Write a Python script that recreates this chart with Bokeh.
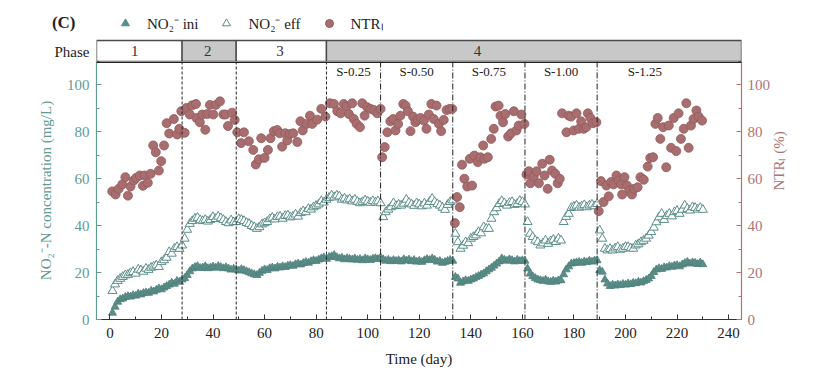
import math
from bokeh.plotting import figure
from bokeh.models import (Range1d, LinearAxis, SingleIntervalTicker, FixedTicker, Span,
                          Legend, LegendItem)
from bokeh.layouts import column
from bokeh.embed import file_html
from bokeh.resources import INLINE
from bokeh.core.properties import value

FONT = "Liberation Serif"
TEAL = "#5b8e89"
TEAL_AX = "#629a94"
ROSE = "#a76d6f"
ROSE_AX = "#ac7477"

# ---------------- data ----------------
days = list(range(1, 231))
no2_ini = [
    2.8, 5.4, 7.5, 8.6, 8.9, 9.5, 9.9, 9.7, 10.3, 10.1,
    11.0, 10.6, 11.2, 11.5, 11.3, 12.2, 11.9, 12.6, 13.2, 12.8,
    13.6, 14.2, 14.8, 15.6, 15.2, 16.4, 16.0, 17.0, 17.6, 18.9,
    20.5, 21.7, 22.3, 22.7, 21.9, 22.1, 22.6, 21.8, 22.1, 22.5,
    22.0, 22.7, 22.3, 21.8, 22.2, 21.7, 21.2, 21.6, 21.3, 20.8,
    21.4, 21.0, 20.5, 20.1, 19.6, 19.2, 18.9, 19.8, 20.7, 21.3,
    21.0, 21.8, 22.1, 21.7, 22.4, 22.1, 22.6, 22.3, 22.9, 23.1,
    22.8, 23.5, 23.8, 23.4, 24.0, 24.5, 24.1, 24.8, 25.2, 24.9,
    25.5, 26.0, 26.4, 25.8, 26.6, 26.9, 27.4, 26.5, 26.0, 26.3,
    25.6, 26.1, 25.8, 25.5, 26.0, 25.4, 25.7, 25.2, 26.0, 25.6,
    25.3, 25.9, 26.1, 25.7, 26.4, 25.6, 25.0, 25.4, 24.8, 25.3,
    24.9, 25.2, 24.7, 25.6, 25.1, 25.5, 24.8, 25.3, 24.6, 25.0,
    24.5, 25.2, 25.7, 25.3, 26.0, 25.4, 24.6, 24.9, 24.1, 24.5,
    24.9, 25.3, 25.0, 18.1, 17.4, 15.6, 16.2, 16.7, 16.4, 17.0,
    17.4, 18.0, 18.5, 19.1, 19.6, 20.5, 21.3, 22.0, 22.9, 23.8,
    24.7, 26.0, 25.4, 25.0, 25.6, 25.2, 24.7, 25.4, 24.9, 25.2,
    25.0, 21.7, 19.5, 18.4, 17.6, 17.0, 16.7, 16.4, 16.9, 16.2,
    16.0, 16.5, 16.1, 16.6, 16.7, 19.2, 21.3, 22.6, 23.8, 24.0,
    24.3, 24.5, 24.1, 24.7, 24.4, 25.0, 24.6, 25.1, 25.2, 21.0,
    20.3, 17.0, 15.3, 14.2, 14.8, 14.4, 14.9, 14.6, 15.1, 14.8,
    15.3, 15.0, 15.6, 15.4, 16.0, 15.7, 16.3, 16.8, 17.4, 18.5,
    20.2, 21.3, 21.8, 21.5, 22.2, 22.1, 22.7, 22.4, 23.0, 23.1,
    22.6, 23.4, 24.0, 24.5, 23.8, 24.3, 24.1, 23.6, 24.2, 23.5,
]
no2_eff = [
    12.2, 15.0, 16.5, 17.4, 18.2, 18.9, 19.1, 19.8, 20.3, 19.6,
    21.3, 21.0, 20.4, 21.7, 21.2, 22.1, 22.6, 23.1, 22.4, 24.5,
    25.3, 26.4, 28.8, 28.1, 30.2, 30.9, 30.2, 31.6, 34.5, 38.3,
    40.8, 42.0, 43.0, 43.4, 42.4, 42.0, 42.5, 41.8, 42.5, 43.7,
    42.9, 43.9, 43.2, 42.5, 41.6, 41.1, 42.3, 41.5, 41.6, 42.8,
    42.5, 42.0, 41.2, 40.8, 39.9, 39.4, 38.7, 39.4, 40.6, 41.1,
    41.6, 42.8, 43.4, 42.7, 43.7, 43.9, 43.0, 44.2, 44.4, 43.6,
    43.9, 44.8, 43.9, 45.4, 46.2, 45.8, 47.2, 46.9, 47.9, 48.5,
    49.1, 50.5, 49.9, 51.1, 51.9, 52.9, 52.1, 52.9, 52.5, 51.1,
    51.6, 50.8, 51.3, 50.4, 51.1, 50.2, 49.6, 50.1, 50.8, 50.3,
    49.8, 50.5, 49.9, 50.4, 49.6, 43.7, 45.8, 46.9, 47.9, 49.6,
    48.4, 49.0, 48.6, 49.4, 51.1, 49.8, 49.1, 48.5, 49.6, 49.1,
    48.3, 49.5, 48.6, 50.2, 51.5, 50.1, 49.2, 48.6, 47.7, 46.8,
    48.9, 50.1, 50.8, 36.6, 33.0, 30.2, 31.5, 33.0, 32.6, 34.5,
    35.2, 35.9, 37.3, 36.8, 39.4, 38.7, 38.7, 43.0, 45.8, 47.5,
    49.3, 50.5, 49.6, 48.6, 49.8, 50.1, 48.9, 49.3, 50.6, 50.1,
    49.1, 41.6, 36.6, 35.2, 33.7, 33.0, 31.6, 32.5, 33.7, 32.3,
    33.4, 34.0, 33.1, 34.5, 33.7, 41.6, 43.8, 45.1, 47.6, 48.1,
    48.6, 47.7, 48.2, 48.8, 47.9, 48.6, 49.0, 48.3, 49.3, 38.0,
    34.5, 30.2, 29.5, 30.1, 29.5, 30.3, 30.9, 29.8, 30.2, 31.0,
    30.9, 30.4, 30.2, 31.6, 32.1, 33.0, 33.6, 34.5, 35.8, 37.3,
    39.2, 41.5, 43.6, 45.1, 42.5, 44.2, 45.1, 44.0, 45.8, 46.3,
    45.1, 46.8, 48.6, 47.2, 46.5, 47.9, 47.6, 46.9, 47.6, 46.8,
]
ntr_day = [
    0.9, 2.2, 3.4, 4.8, 6.0, 7.0, 8.0, 9.3, 10.2, 11.6, 12.8, 13.5, 14.7, 15.8,
    16.8, 17.8, 19.0, 19.9, 21.0, 22.0, 23.0, 24.8, 26.1, 26.9, 27.7,
    29.0, 29.7, 31.0, 31.9, 33.4, 33.6, 34.9, 35.8, 37.0, 37.8, 38.8, 40.1,
    41.1, 42.7, 44.0, 44.9, 45.8, 47.4, 48.4,
    49.4, 50.9, 52.0, 53.9, 55.6, 56.6, 57.8, 58.7, 60.0, 61.3, 62.3, 63.6,
    64.9, 65.9, 66.8, 68.0, 68.8, 69.8, 71.1, 72.7, 73.9, 74.8, 76.3, 77.6,
    78.5, 80.4, 82.0, 83.6,
    85.3, 86.9, 88.2, 89.5, 90.7, 91.8, 92.7, 94.0, 94.6, 95.7, 97.0, 97.9,
    98.8, 99.8, 101.1, 102.4, 103.7, 105.0,
    105.6, 106.6, 107.6, 108.8, 109.9, 110.8, 111.8, 112.7, 113.8, 114.7,
    115.6, 116.6, 117.6, 118.5, 119.4, 120.5, 121.8, 122.8, 123.7, 124.7,
    125.6, 126.7, 127.6, 128.5, 129.5, 130.6, 131.8, 132.8,
    133.8, 134.7, 135.7, 136.6, 137.5, 138.6, 139.6, 140.5, 141.4, 142.7,
    143.7, 144.8, 145.3, 146.6, 147.9, 148.9, 149.6, 150.8, 151.5, 152.5,
    153.4, 154.5, 155.6, 156.7, 157.7, 158.6, 159.6, 160.8,
    161.6, 162.5, 163.1, 164.4, 165.5, 166.4, 167.7, 168.6, 169.8, 170.6,
    171.5, 172.8, 173.7, 174.5, 175.4, 177.1, 178.0, 178.9, 179.9, 181.0,
    181.9, 182.8, 183.8, 184.8, 185.4, 186.4, 187.4, 188.7,
    189.6, 190.5, 191.5, 192.6, 193.5, 194.4, 195.4, 196.5, 197.4, 198.3,
    198.7, 199.6, 200.6, 201.6, 202.5, 203.4, 204.7, 205.8, 207.1, 208.6,
    209.6, 210.7, 211.6, 212.5, 213.5, 214.6, 215.8, 216.8, 217.7, 218.7,
    219.7, 220.6, 221.5, 222.6, 223.6, 224.5, 225.4, 226.4, 227.5, 228.4,
    229.7,
]
ntr_val = [
    54.6, 53.3, 55.7, 57.6, 60.7, 52.8, 56.7, 59.3, 60.4, 61.4, 57.0, 61.4, 58.3, 62.1,
    74.2, 71.3, 63.5, 67.5, 74.2, 83.7, 79.3, 85.5, 78.9, 81.3, 88.8,
    79.6, 90.2, 87.4, 91.3, 91.9, 85.9, 84.1, 87.4, 80.9, 87.6, 91.5, 87.4,
    91.5, 93.0, 87.4, 87.4, 82.5, 88.2, 85.1,
    79.8, 75.2, 79.8, 76.0, 72.3, 66.1, 68.3, 77.3, 68.9, 72.3, 77.3, 80.3,
    80.8, 79.4, 73.7, 79.4, 76.3, 79.1, 79.4, 75.7, 84.5, 80.6, 83.4, 86.9,
    83.4, 85.2, 89.8, 86.5,
    92.2, 91.9, 88.8, 87.9, 91.9, 90.8, 87.6, 92.2, 85.5, 83.4, 82.0, 92.2,
    86.9, 90.5, 89.8, 89.3, 87.9, 89.8,
    69.2, 73.5, 79.8, 84.5, 85.5, 80.6, 83.4, 86.9, 91.9, 91.2,
    88.8, 80.3, 86.5, 84.1, 85.1, 85.9, 84.8, 81.3, 87.4, 91.9,
    85.5, 91.2, 83.4, 80.3, 85.1, 89.3, 89.8, 89.8,
    41.1, 52.2, 47.9, 66.0, 60.0, 56.7, 68.5, 57.1, 69.9, 67.1,
    69.2, 74.2, 68.5, 69.2, 77.0, 81.3, 90.8, 91.2, 86.9, 84.1,
    87.6, 78.0, 79.4, 88.8, 80.6, 82.7, 87.4, 83.4,
    61.8, 63.2, 58.1, 61.0, 63.2, 58.1, 66.4, 61.4, 55.7, 68.1,
    63.5, 62.1, 58.1, 60.0, 87.9, 79.8, 86.9, 86.5, 80.6, 87.9,
    81.3, 84.5, 81.3, 82.0, 87.9, 85.9, 83.7, 84.1,
    46.2, 59.0, 50.1, 57.1, 52.5, 58.6, 57.6, 61.4, 59.3, 57.6,
    53.3, 60.7, 57.1, 55.0, 53.3, 55.7, 56.4, 60.7, 59.6, 65.2,
    68.9, 69.2, 83.4, 85.9, 77.0, 82.0, 64.9, 82.7, 73.2, 85.9,
    71.8, 87.9, 77.0, 81.3, 92.2, 73.2, 82.7, 85.5, 89.1, 86.5,
    84.8,
]

phase_names = ["1", "2", "3", "4"]
phase_start = [-5.2, 28, 49, 84]
phase_end = [28, 49, 84, 245]
phase_fill = ["white", "#c8c8c8", "white", "#c8c8c8"]
phase_label_x = [9.6, 38.0, 66.0, 142.6]
sub_names = ["S-0.25", "S-0.50", "S-0.75", "S-1.00", "S-1.25"]
sub_label_x = [94.5, 119.0, 147.0, 175.0, 207.5]
sub_label_y = [105.7] * 5
dashed_days = [28, 49, 84]
dashdot_days = [105, 133, 161, 189]

X_MIN, X_MAX = -5.2, 245
Y_MIN, Y_MAX = 0, 110

# ---------------- layout geometry ----------------
W = 809
BORDER_L, BORDER_R = 96, 68
TOP_H = 61          # legend row + phase bar (top strip uses pixel units on y)
BAR_H = 21          # phase bar height
PHASE_ROW_Y = 10    # "Phase" tick in the top strip
PANEL_ROW_Y = 39    # "(C)" tick in the top strip
MAIN_H = 311

xr = Range1d(X_MIN, X_MAX)

# ---------------- top figure: legend + phase bar ----------------
pt = figure(width=W, height=TOP_H, x_range=xr, y_range=Range1d(0, TOP_H),
            output_backend="svg", toolbar_location=None,
            x_axis_location=None, y_axis_location=None,
            min_border_left=BORDER_L, min_border_right=BORDER_R,
            min_border_top=0, min_border_bottom=0)
pt.grid.visible = False
pt.outline_line_color = None
pt.background_fill_color = "white"

pt.quad(left=phase_start, right=phase_end, bottom=0, top=BAR_H,
        fill_color=phase_fill, line_color="#4a4a4a", line_width=1.4)
pt.text(x=phase_label_x, y=[BAR_H / 2] * 4, text=phase_names,
        text_font=value(FONT), text_font_size="15px", text_color="#333333",
        text_align="center", text_baseline="middle")


def label_axis(ticks_at, text, size, style, standoff):
    ax = LinearAxis(ticker=FixedTicker(ticks=[ticks_at]))
    ax.major_label_overrides = {ticks_at: text}
    ax.axis_line_color = None
    ax.major_tick_line_color = None
    ax.minor_tick_line_color = None
    ax.major_tick_in = 0
    ax.major_tick_out = 0
    ax.major_label_standoff = standoff
    ax.major_label_text_font = FONT
    ax.major_label_text_font_size = size
    ax.major_label_text_font_style = style
    ax.major_label_text_color = "#222222"
    return ax


pt.add_layout(label_axis(PHASE_ROW_Y, "Phase", "15px", "normal", 7), "left")
pt.add_layout(label_axis(PANEL_ROW_Y, "(C)", "17px", "bold", -24), "left")

nan = float("nan")
r_ini_leg = pt.scatter(x=[nan], y=[nan], marker="triangle", size=9,
                       fill_color=TEAL, line_color=TEAL)
r_eff_leg = pt.scatter(x=[nan], y=[nan], marker="triangle", size=9,
                       fill_color="white", line_color=TEAL, line_width=1)
r_ntr_leg = pt.scatter(x=[nan], y=[nan], marker="circle", size=9,
                       fill_color=ROSE, line_color="#94595b")
legend = Legend(items=[LegendItem(label="NO₂⁻ ini", renderers=[r_ini_leg]),
                       LegendItem(label="NO₂⁻ eff", renderers=[r_eff_leg]),
                       LegendItem(label="NTRₗ", renderers=[r_ntr_leg])],
                orientation="horizontal", location=(19, 28),
                label_text_font=FONT, label_text_font_size="15px",
                label_text_color="#222222",
                glyph_width=20, glyph_height=20, label_standoff=12, spacing=18,
                padding=0, margin=0, border_line_color=None,
                background_fill_alpha=0)
pt.add_layout(legend)

# ---------------- main figure ----------------
p = figure(width=W, height=MAIN_H, x_range=xr, y_range=Range1d(Y_MIN, Y_MAX),
           output_backend="svg", toolbar_location=None,
           min_border_left=BORDER_L, min_border_right=BORDER_R,
           min_border_top=0, min_border_bottom=53)
p.grid.visible = False
p.outline_line_color = None
p.extra_y_ranges = {"ntr": Range1d(Y_MIN, Y_MAX)}

p.add_layout(Span(location=Y_MAX, dimension="width", line_color="#222222", line_width=3))
for d in dashed_days:
    p.add_layout(Span(location=d, dimension="height", line_color="#222222",
                      line_width=1, line_dash="3 2"))
for d in dashdot_days:
    p.add_layout(Span(location=d, dimension="height", line_color="#222222",
                      line_width=1, line_dash="6 2 1 2"))

p.scatter(x=days, y=no2_eff, marker="triangle", size=9,
          fill_color="white", line_color=TEAL, line_width=1)
p.scatter(x=days, y=no2_ini, marker="triangle", size=8,
          fill_color=TEAL, line_color="#4f807b", line_width=0.8)
p.scatter(x=ntr_day, y=ntr_val, y_range_name="ntr", marker="circle", size=9,
          fill_color=ROSE, line_color="#94595b", line_width=0.8)

p.text(x=sub_label_x, y=sub_label_y, text=sub_names, text_font=value(FONT),
       text_font_size="13px", text_color="#222222",
       text_align="center", text_baseline="middle")


def style_axis(ax, color, label_color):
    ax.axis_line_color = color
    ax.axis_line_width = 1.2
    ax.major_tick_line_color = color
    ax.minor_tick_line_color = color
    ax.major_tick_in = 5
    ax.major_tick_out = 0
    ax.minor_tick_in = 3
    ax.minor_tick_out = 0
    ax.major_label_text_font = FONT
    ax.major_label_text_font_size = "15px"
    ax.major_label_text_color = label_color
    ax.axis_label_text_font = FONT
    ax.axis_label_text_font_size = "15px"
    ax.axis_label_text_font_style = "normal"
    ax.axis_label_text_color = label_color


xa = p.xaxis[0]
xa.ticker = SingleIntervalTicker(interval=20, num_minor_ticks=2)
xa.axis_label = "Time (day)"
style_axis(xa, "#333333", "#222222")
xa.major_label_standoff = 8
xa.axis_label_standoff = 10

ya = p.yaxis[0]
ya.ticker = SingleIntervalTicker(interval=20, num_minor_ticks=2)
ya.axis_label = "NO₂⁻-N concentration (mg/L)"
style_axis(ya, TEAL_AX, TEAL_AX)
ya.major_label_standoff = 7
ya.axis_label_standoff = 10

ra = LinearAxis(y_range_name="ntr",
                ticker=SingleIntervalTicker(interval=20, num_minor_ticks=2),
                axis_label="NTRₗ (%)")
style_axis(ra, ROSE_AX, ROSE_AX)
ra.major_label_standoff = 6
ra.axis_label_standoff = 6
ra.axis_label_orientation = math.pi / 2
p.add_layout(ra, "right")

layout = column(pt, p, spacing=0)
open("out.html", "w").write(file_html(layout, INLINE))
